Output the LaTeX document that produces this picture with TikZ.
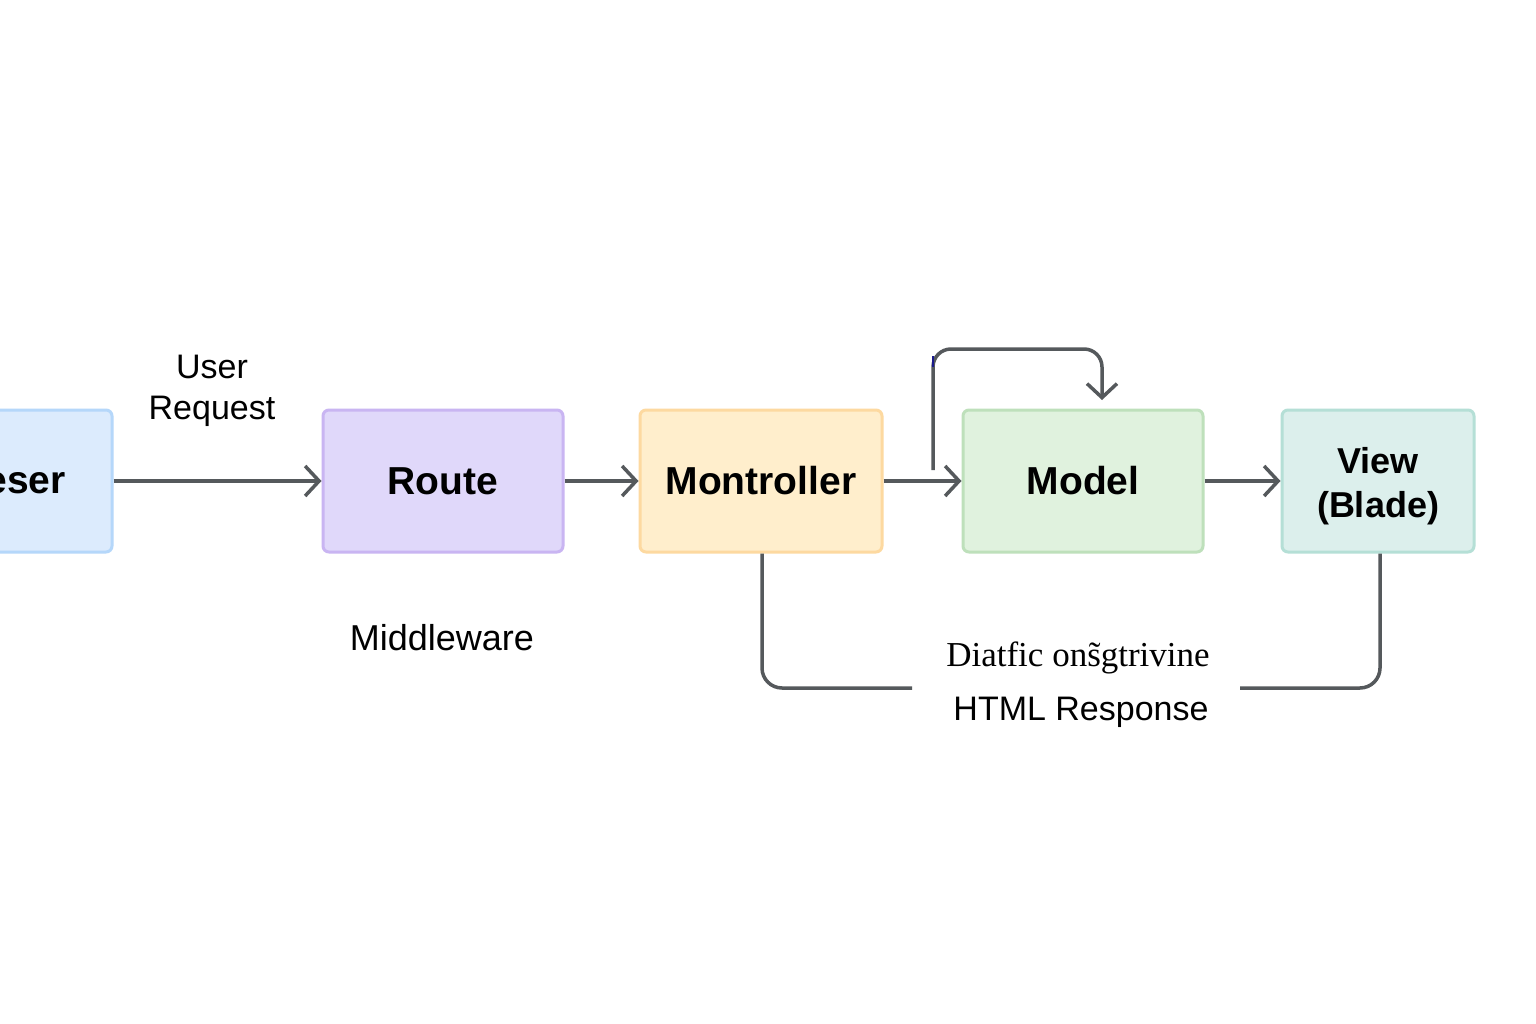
\documentclass[tikz,border=0pt]{standalone}
\usepackage{fontspec}
\setmainfont{Liberation Sans}
\newfontfamily\garbfont{Liberation Serif}
\usetikzlibrary{arrows.meta}
\definecolor{lnk}{HTML}{55595C}
\definecolor{bfill}{HTML}{DCEBFD}\definecolor{bdraw}{HTML}{B5D7FA}
\definecolor{rfill}{HTML}{E0D8FA}\definecolor{rdraw}{HTML}{C9B5F2}
\definecolor{cfill}{HTML}{FFEECC}\definecolor{cdraw}{HTML}{FDD9A0}
\definecolor{mfill}{HTML}{E0F2DE}\definecolor{mdraw}{HTML}{BEE0BB}
\definecolor{vfill}{HTML}{DCEFEC}\definecolor{vdraw}{HTML}{B5DFD6}
\definecolor{glitch}{HTML}{1A1A8C}
\tikzset{
  box/.style={draw, line width=3pt, rounded corners=6pt, minimum height=142pt, inner sep=0pt,
    font=\fontsize{39}{44}\selectfont\bfseries, align=center},
  lbl/.style={font=\fontsize{34}{41}\selectfont, align=center, inner sep=0pt},
  flow/.style={draw=lnk, line width=3.5pt, -{Straight Barb[length=14pt,width=30pt,line width=3.5pt]}},
  wire/.style={draw=lnk, line width=3.5pt, rounded corners=20pt},
}
\begin{document}
\begin{tikzpicture}[x=1pt,y=-1pt]
\useasboundingbox[fill=white] (0,0) rectangle (1536,1024);
\node[box, fill=bfill, draw=bdraw, minimum width=240pt] (browser) at (-8,481) {};
\node[font=\fontsize{39}{44}\selectfont\bfseries, anchor=east, inner sep=0pt] (browsertxt) at (66,483) {eser};
\node[box, fill=rfill, draw=rdraw, minimum width=240pt] (route) at (443,481) {Route};
\node[box, fill=cfill, draw=cdraw, minimum width=242pt] (ctrl) at (761,481) {Montroller};
\node[box, fill=mfill, draw=mdraw, minimum width=240pt] (model) at (1083,481) {Model};
\node[box, fill=vfill, draw=vdraw, minimum width=192pt] (view) at (1378,481) {};
\node[font=\fontsize{36}{44}\selectfont\bfseries, align=center, inner sep=0pt] (viewtxt) at ([yshift=-5pt]view.center) {View\\(Blade)};

\node[lbl] (req) at (212,391) {User\\Request};
\node[lbl, font=\fontsize{36}{42}\selectfont] (mid) at (442,638) {Middleware};
\node[font=\fontsize{35}{40}\selectfont\garbfont, inner sep=0pt] (garb) at (1078,658) {Diatfic on\~sgtrivine};
\node[lbl] (html) at (1081,712) {HTML Response};

\draw[flow] (browser.east) -- (route.west);
\draw[flow] (route.east) -- (ctrl.west);
\draw[flow] (ctrl.east) -- (model.west);
\draw[flow] (model.east) -- (view.west);

\coordinate (loopstart) at (933,470);
\coordinate (loopend) at (1102,400);
\draw[flow, rounded corners=18pt] (loopstart) -- (933,349) -- (1102,349) -- (loopend);
\draw[glitch, line width=2.5pt] (933,356) -- (933,367);

\coordinate (lgap) at (912,688);
\coordinate (rgap) at (1240,688);
\coordinate (ctrlbot) at ([xshift=1pt]ctrl.south);
\coordinate (viewbot) at ([xshift=2pt]view.south);
\draw[wire] (ctrlbot) -- (762,688) -- (lgap);
\draw[wire] (viewbot) -- (1380,688) -- (rgap);
\end{tikzpicture}
\end{document}
